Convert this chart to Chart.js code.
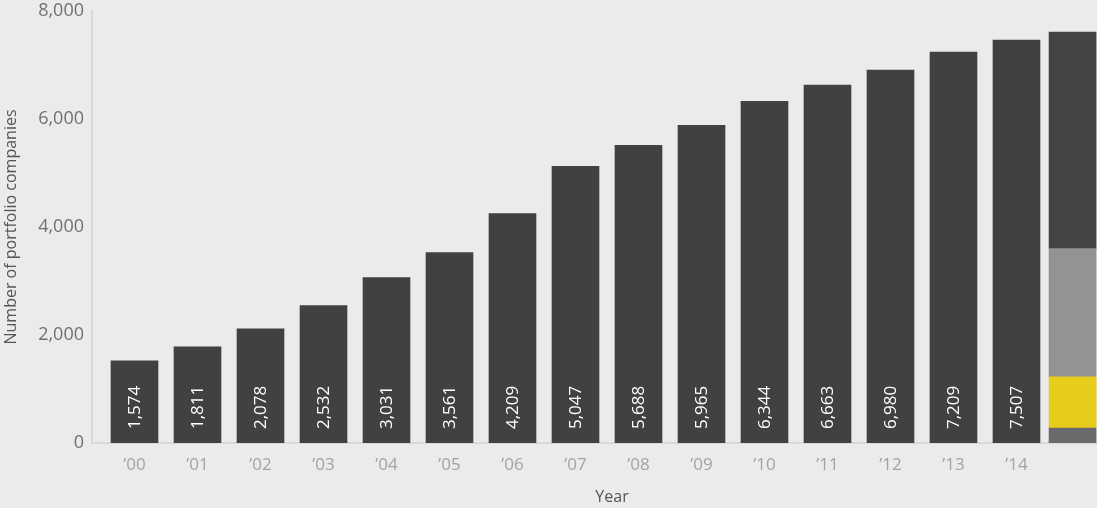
<!DOCTYPE html>
<html>
<head>
<meta charset="utf-8">
<script src="https://cdn.jsdelivr.net/npm/chart.js@4/dist/chart.umd.min.js"></script>
<style>
  html, body { margin: 0; padding: 0; background: #ebebeb; overflow: hidden; }
  #wrap { width: 1097px; height: 508px; position: relative; }
</style>
</head>
<body>
<div id="wrap"><canvas id="c"></canvas></div>
<script>
// ---- data ----
const years = ["’00","’01","’02","’03","’04","’05","’06","’07","’08","’09","’10","’11","’12","’13","’14"];
const barValues = [1522, 1782, 2116, 2543, 3062, 3526, 4250, 5122, 5512, 5884, 6329, 6626, 6904, 7238, 7461];
const barLabels = ["1,574","1,811","2,078","2,532","3,031","3,561","4,209","5,047","5,688","5,965","6,344","6,663","6,980","7,209","7,507"];
const lastBarSegments = [278, 947, 2376, 4009]; // bottom to top
const yTicks = [0, 2000, 4000, 6000, 8000];
const yTitle = "Number of portfolio companies";
const xTitle = "Year";

// ---- style / layout ----
const lastBarX = 14.89;
const segColors = ["#6b6b6e", "#e8cc1c", "#939393", "#444444"];
const barColor = "#414141";
const FONT = "'Open Sans', 'Lato', sans-serif";

const datasets = [{
  data: barValues.map((v, i) => ({ x: i, y: v })),
  backgroundColor: barColor,
  borderWidth: 0,
  barThickness: 47
}];
lastBarSegments.forEach((v, k) => {
  datasets.push({
    data: [{ x: lastBarX, y: v }],
    backgroundColor: segColors[k],
    borderWidth: 0,
    barThickness: 47
  });
});

const labelPlugin = {
  id: 'barLabels',
  afterDatasetsDraw(chart) {
    const ctx = chart.ctx;
    const meta = chart.getDatasetMeta(0);
    ctx.save();
    ctx.fillStyle = '#ffffff';
    ctx.font = "17px " + FONT;
    ctx.textAlign = 'left';
    ctx.textBaseline = 'middle';
    meta.data.forEach((bar, i) => {
      ctx.save();
      ctx.translate(bar.x + 0.5, bar.base - 14);
      ctx.rotate(-Math.PI / 2);
      ctx.fillText(barLabels[i], 0, 0);
      ctx.restore();
    });
    ctx.restore();
  },
  afterDraw(chart) {
    const ctx = chart.ctx;
    ctx.save();
    ctx.fillStyle = '#555555';
    ctx.font = "16px " + FONT;
    ctx.textAlign = 'center';
    ctx.textBaseline = 'middle';
    ctx.fillText(xTitle, 612, 497);
    ctx.restore();
  }
};

new Chart(document.getElementById('c'), {
  type: 'bar',
  data: { datasets },
  plugins: [labelPlugin],
  options: {
    responsive: true,
    maintainAspectRatio: false,
    animation: false,
    layout: { padding: { top: 11, right: 0, left: 0, bottom: 0 } },
    plugins: { legend: { display: false }, tooltip: { enabled: false } },
    scales: {
      x: {
        type: 'linear',
        stacked: true,
        offset: false,
        min: -0.6746,
        max: 15.278,
        grid: { display: false, drawTicks: false, offset: false },
        border: { display: true, color: '#d9d9d9', width: 2 },
        afterBuildTicks(scale) { scale.ticks = years.map((_, i) => ({ value: i })); },
        ticks: {
          autoSkip: false,
          maxRotation: 0,
          padding: 12,
          color: '#a3a3a3',
          font: { family: FONT, size: 17 },
          callback: (v) => years[v] !== undefined ? years[v] : ''
        },
        afterFit(scale) { scale.height = 65; scale.paddingLeft = 0; scale.paddingRight = 0; }
      },
      y: {
        stacked: true,
        min: 0,
        max: 8000,
        grid: { display: false, drawTicks: false },
        border: { display: true, color: '#d9d9d9', width: 2 },
        afterBuildTicks(scale) { scale.ticks = yTicks.map(v => ({ value: v })); },
        ticks: {
          padding: 8,
          color: '#707070',
          font: { family: FONT, size: 18 },
          callback: (v) => v.toLocaleString('en-US')
        },
        title: {
          display: true,
          text: yTitle,
          color: '#555555',
          font: { family: FONT, size: 16 },
          padding: { top: 2, bottom: 0 }
        },
        afterFit(scale) { scale.width = 92; scale.paddingTop = 0; scale.paddingBottom = 0; }
      }
    }
  }
});
</script>
</body>
</html>
